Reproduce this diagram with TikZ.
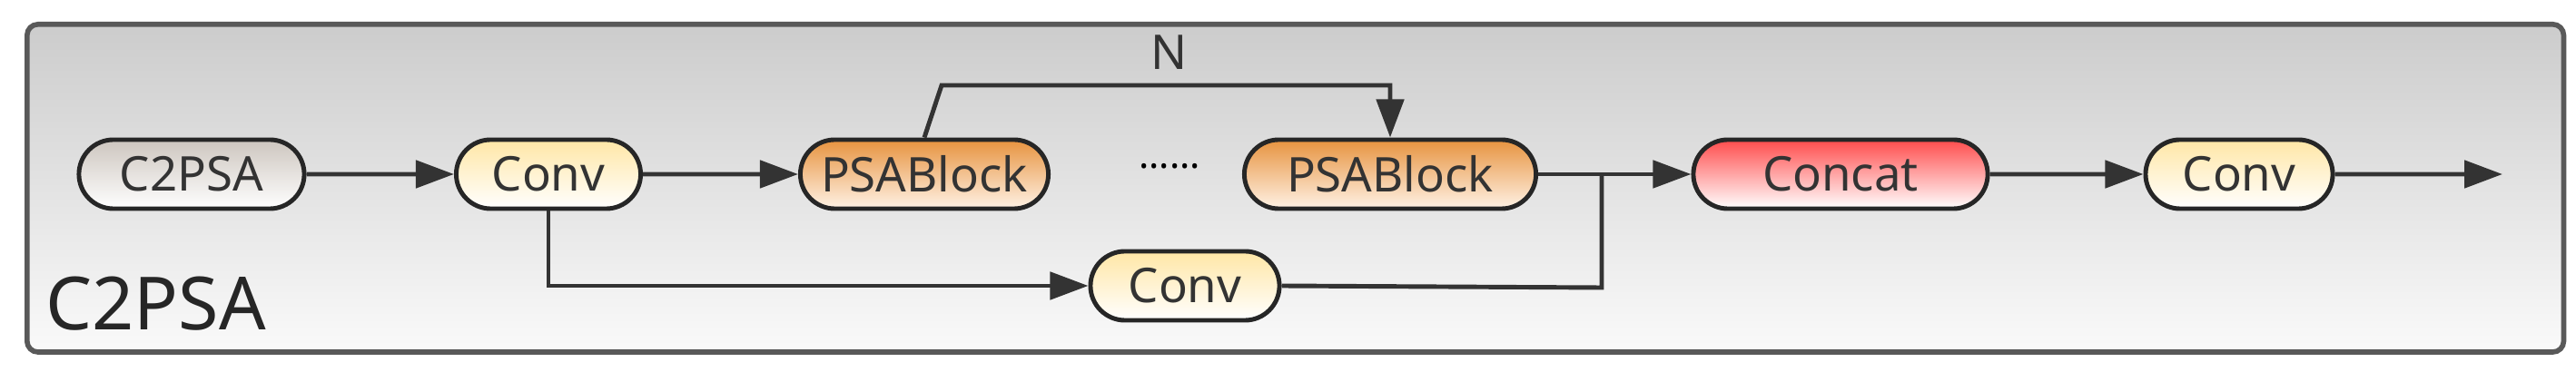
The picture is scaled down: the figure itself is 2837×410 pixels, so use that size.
\documentclass[tikz,border=0pt]{standalone}
\usepackage{fontspec}
\setmainfont{Noto Sans}
\usetikzlibrary{arrows.meta,shapes.misc}
\begin{document}
\begin{tikzpicture}[x=0.01cm,y=-0.01cm,
  blk/.style={draw=black!85,line width=1.4pt,rounded rectangle,minimum height=0.76cm,inner sep=0pt,font=\fontsize{15}{18}\selectfont,text=black!80},
  gc/.style={blk,top color=#1,bottom color=white},
  ar/.style={line width=1.4pt,draw=black!80,-{Triangle[length=0.42cm,width=0.3cm]}},
  ln/.style={line width=1.4pt,draw=black!80}]
\useasboundingbox (0,0) rectangle (2837,410);
\node[draw=black!65,line width=1.6pt,rounded corners=0.12cm,top color=black!20,bottom color=black!2,minimum width=27.92cm,minimum height=3.61cm,anchor=north west] (frame) at (27,24) {};
\node[anchor=west,font=\fontsize{23}{26}\selectfont\bfseries,text=black!85] (title) at (38,335) {C2PSA};
\node[gc=brown!25!gray!45,minimum width=2.48cm] (in) at (211,192) {C2PSA};
\node[gc=yellow!45!orange!35,minimum width=2.03cm] (c1) at (604,192) {Conv};
\node[blk,top color=orange!55!brown!85,bottom color=orange!10,minimum width=2.73cm] (p1) at (1018,192) {PSABlock};
\node[font=\fontsize{12}{14}\selectfont] (dots) at (1288,183) {......};
\node[blk,top color=orange!55!brown!85,bottom color=orange!10,minimum width=3.21cm] (p2) at (1531,192) {PSABlock};
\node[gc=red!70,minimum width=3.24cm] (cat) at (2027,192) {Concat};
\node[gc=yellow!45!orange!35,minimum width=2.06cm] (c3) at (2466,192) {Conv};
\node[gc=yellow!45!orange!35,minimum width=2.08cm] (c2) at (1305,315) {Conv};
\coordinate (out) at (2756,192);
\coordinate (j) at (1764,192);
\node[font=\fontsize{15}{18}\selectfont,text=black!80] (n) at (1288,58) {N};
\draw[ar] (in) -- (c1);
\draw[ar] (c1) -- (p1);
\draw[ar] (p1.north) -- (1037,94) -| (p2.north);
\draw[ar] (c1.south) |- (c2.west);
\draw[ar] (p2.east) -- (cat.west);
\draw[ln] (c2.east) -- (1764,317) -- (j);
\draw[ar] (cat) -- (c3);
\draw[ar] (c3) -- (out);
\end{tikzpicture}
\end{document}
